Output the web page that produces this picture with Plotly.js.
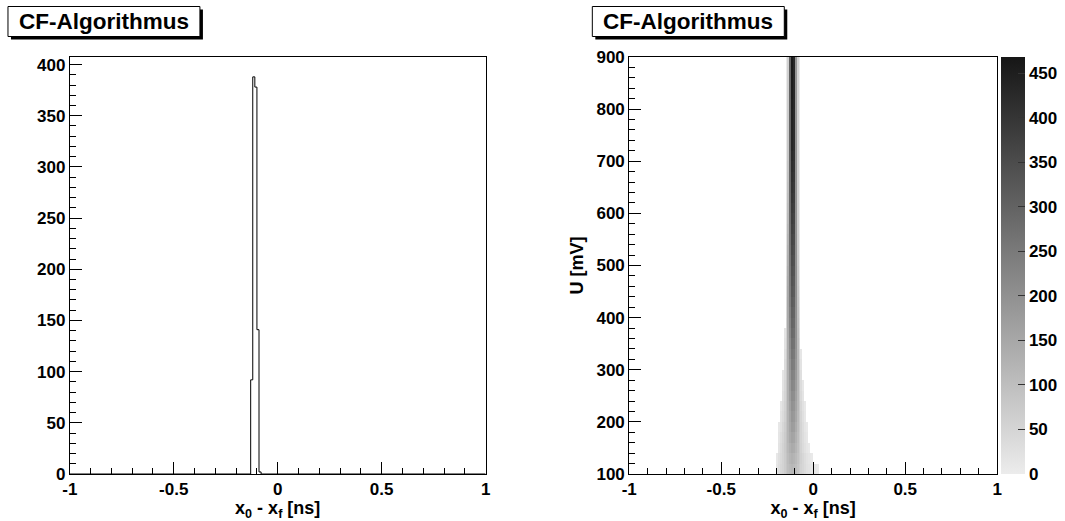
<!DOCTYPE html>
<html>
<head>
<meta charset="utf-8">
<script src="https://cdn.plot.ly/plotly-3.0.1.min.js"></script>
<style>
  html, body { margin: 0; padding: 0; background: #ffffff; }
  #chart { width: 1065px; height: 521px; }
</style>
</head>
<body>
<div id="chart"></div>
<script>
// ---- 1D spectrum: time difference x0 - xf (bins of 0.01 ns) ----
const histCenters = [-0.125, -0.115, -0.105, -0.095, -0.085];
const histCounts  = [92, 388, 378, 141, 2];
const histBinWidth = 0.01;

// time axis ticks (plain hyphen for negative values)
const tTickVals = [-1, -0.5, 0, 0.5, 1];
const tTickText = ['-1', '-0.5', '0', '0.5', '1'];

// ---- 2D spectrum: amplitude U [mV] versus x0 - xf [ns] ----
const tCenters = [-0.215, -0.205, -0.195, -0.185, -0.175, -0.165, -0.155, -0.145, -0.135,
                  -0.125, -0.115, -0.105, -0.095, -0.085, -0.075, -0.065, -0.055, -0.045,
                  -0.035, -0.025, -0.015, -0.005, 0.005, 0.015, 0.025, 0.035];
const uCenters = [110, 130, 150, 170, 190, 210, 230, 250, 270, 290,
                  310, 330, 350, 370, 390, 410, 430, 450, 470, 490,
                  510, 530, 550, 570, 590, 610, 630, 650, 670, 690,
                  710, 730, 750, 770, 790, 810, 830, 850, 870, 890];
// index of the first filled time bin in each amplitude row
const rowStart = [2, 2, 3, 3, 3, 4, 4, 5, 5, 5,
                  6, 6, 6, 6, 7, 7, 7, 7, 7, 7,
                  7, 7, 7, 7, 7, 7, 7, 7, 7, 7,
                  7, 7, 7, 7, 7, 7, 7, 7, 7, 7];
// counts per row, starting at rowStart
const rowCounts = [
  [15, 30, 45, 55, 70, 85, 100, 110, 115, 110, 100, 85, 70, 55, 45, 35, 25, 20, 15, 12, 10, 8, 5],
  [12, 28, 42, 55, 70, 88, 105, 120, 128, 122, 110, 92, 75, 58, 45, 32, 22, 15, 10, 6],
  [20, 38, 55, 72, 92, 112, 132, 145, 140, 120, 98, 75, 55, 38, 25, 14, 6],
  [15, 32, 50, 70, 92, 118, 145, 160, 155, 130, 102, 75, 52, 35, 20, 10],
  [10, 25, 45, 65, 90, 120, 150, 175, 170, 140, 108, 78, 52, 32, 16, 6],
  [20, 38, 60, 88, 122, 158, 188, 182, 150, 112, 78, 50, 28, 12],
  [14, 32, 55, 85, 125, 165, 198, 192, 158, 115, 78, 46, 24, 8],
  [26, 50, 82, 128, 172, 210, 205, 165, 118, 75, 40, 18],
  [20, 45, 80, 130, 180, 222, 216, 172, 120, 72, 36, 12],
  [15, 40, 76, 132, 188, 235, 228, 180, 120, 65, 28],
  [34, 72, 135, 195, 248, 240, 186, 118, 58, 20],
  [28, 68, 138, 205, 260, 252, 192, 115, 52, 14],
  [22, 62, 140, 212, 272, 264, 196, 110, 45],
  [18, 58, 142, 220, 284, 276, 200, 105, 38],
  [52, 145, 228, 295, 286, 200, 100, 32],
  [46, 146, 235, 305, 296, 202, 96, 28],
  [42, 148, 242, 315, 305, 204, 92, 24],
  [38, 146, 248, 325, 314, 205, 88, 20],
  [34, 142, 252, 334, 322, 205, 84, 16],
  [30, 138, 256, 342, 330, 205, 80, 14],
  [26, 132, 260, 350, 338, 204, 76, 12],
  [24, 126, 264, 358, 346, 203, 72, 10],
  [22, 120, 268, 366, 354, 202, 70, 10],
  [20, 114, 272, 374, 362, 200, 68, 8],
  [18, 108, 276, 382, 370, 200, 66, 8],
  [16, 102, 278, 390, 378, 198, 64, 8],
  [14, 98, 280, 398, 385, 198, 62, 7],
  [12, 94, 282, 405, 392, 196, 62, 7],
  [10, 90, 284, 412, 398, 196, 60, 6],
  [10, 86, 286, 418, 404, 195, 60, 6],
  [8, 82, 288, 424, 410, 194, 58, 6],
  [8, 78, 290, 430, 414, 194, 58, 5],
  [6, 76, 292, 436, 418, 193, 57, 5],
  [6, 72, 294, 440, 422, 192, 56, 5],
  [5, 70, 295, 444, 425, 192, 56, 5],
  [5, 68, 296, 448, 428, 191, 55, 5],
  [4, 66, 298, 452, 430, 190, 55, 6],
  [4, 64, 298, 455, 431, 190, 55, 6],
  [4, 62, 300, 458, 430, 190, 55, 6],
  [4, 60, 300, 460, 430, 190, 55, 6]
];
const zMax = 468;

const panelTitle = 'CF-Algorithmus';
const xTitle = 'x<sub>0</sub> - x<sub>f</sub> [ns]';
const yTitleRight = 'U [mV]';

// ---- build traces ----
// step outline of the 1D histogram
const stepX = [-1], stepY = [0];
histCenters.forEach((c, i) => {
  const lo = c - histBinWidth / 2, hi = c + histBinWidth / 2;
  stepX.push(lo, lo, hi, hi);
  const prev = i === 0 ? 0 : histCounts[i - 1];
  stepY.push(prev, histCounts[i], histCounts[i], histCounts[i]);
});
stepX.push(stepX[stepX.length - 1], 1);
stepY.push(0, 0);

// 2D matrix, empty cells left blank
const zGrid = uCenters.map((u, r) => {
  const row = tCenters.map(() => null);
  rowCounts[r].forEach((v, k) => { row[rowStart[r] + k] = v; });
  return row;
});

const W = 1065, H = 521;
const fx = (x) => x / W;
const fy = (y) => 1 - y / H;
const FONT = 'Liberation Sans, Arial, Helvetica, sans-serif';
const tickFont = { family: FONT, size: 17, color: '#000', weight: 'bold' };
const titleFont = { family: FONT, size: 18, color: '#000', weight: 'bold' };

const histTrace = {
  type: 'scatter', mode: 'lines', x: stepX, y: stepY,
  line: { color: '#000', width: 1, shape: 'linear' },
  xaxis: 'x', yaxis: 'y', hoverinfo: 'skip', showlegend: false
};

const mapTrace = {
  type: 'heatmap', x: tCenters, y: uCenters, z: zGrid,
  xaxis: 'x2', yaxis: 'y2', zmin: 0, zmax: zMax, zsmooth: false,
  colorscale: [[0, '#ececec'], [1, '#161616']],
  colorbar: {
    x: fx(1004), xanchor: 'left', xpad: 0,
    y: fy(474), yanchor: 'bottom', ypad: 0,
    len: (474 - 57) / H, lenmode: 'fraction',
    thickness: 24, thicknessmode: 'pixels',
    outlinewidth: 0,
    ticks: 'inside', ticklen: 7, tickcolor: '#333', tickwidth: 1,
    tick0: 0, dtick: 50, tickfont: tickFont
  }
};

const commonAxis = {
  showgrid: false, zeroline: false, showline: true, mirror: true,
  linecolor: '#000', linewidth: 1,
  ticks: 'inside', ticklen: 12, tickcolor: '#000', tickwidth: 1,
  tickfont: tickFont, automargin: false, fixedrange: true
};

const timeAxis = {
  range: [-1, 1], tickmode: 'array', tickvals: tTickVals, ticktext: tTickText,
  minor: { tickmode: 'linear', tick0: 0, dtick: 0.1, ticks: 'inside', ticklen: 6, tickcolor: '#000', showgrid: false },
  title: { text: xTitle, font: titleFont, standoff: 1 }
};

const layout = {
  width: W, height: H,
  margin: { l: 0, r: 0, t: 0, b: 0 },
  paper_bgcolor: '#fff', plot_bgcolor: '#fff',
  showlegend: false,
  xaxis: Object.assign({}, commonAxis, timeAxis, { domain: [fx(70), fx(487)] }),
  yaxis: Object.assign({}, commonAxis, {
    domain: [fy(474), fy(57)], range: [0, 407.4], tick0: 0, dtick: 50,
    minor: { dtick: 10, ticks: 'inside', ticklen: 6, tickcolor: '#000', showgrid: false }
  }),
  xaxis2: Object.assign({}, commonAxis, timeAxis, { anchor: 'y2', domain: [fx(631), fx(1000)] }),
  yaxis2: Object.assign({}, commonAxis, {
    anchor: 'x2',
    domain: [fy(474), fy(57)], range: [100, 900], tick0: 100, dtick: 100,
    minor: { dtick: 20, ticks: 'inside', ticklen: 6, tickcolor: '#000', showgrid: false },
    title: { text: yTitleRight, font: titleFont, standoff: 8 }
  }),
  shapes: [
    // title boxes: drop shadow then white pane
    { type: 'rect', xref: 'paper', yref: 'paper', x0: fx(11), x1: fx(203.5), y0: fy(39.5), y1: fy(9.5),
      fillcolor: '#000', line: { width: 0 } },
    { type: 'rect', xref: 'paper', yref: 'paper', x0: fx(8), x1: fx(200.5), y0: fy(36.5), y1: fy(6.5),
      fillcolor: '#fff', line: { color: '#000', width: 1 } },
    { type: 'rect', xref: 'paper', yref: 'paper', x0: fx(597), x1: fx(789.5), y0: fy(39.5), y1: fy(9.5),
      fillcolor: '#000', line: { width: 0 } },
    { type: 'rect', xref: 'paper', yref: 'paper', x0: fx(594), x1: fx(786.5), y0: fy(36.5), y1: fy(6.5),
      fillcolor: '#fff', line: { color: '#000', width: 1 } }
  ],
  annotations: [
    { xref: 'paper', yref: 'paper', x: fx(104.3), y: fy(21.5), xanchor: 'center', yanchor: 'middle',
      text: panelTitle, showarrow: false, font: { family: FONT, size: 22.5, color: '#000', weight: 'bold' } },
    { xref: 'paper', yref: 'paper', x: fx(690.3), y: fy(21.5), xanchor: 'center', yanchor: 'middle',
      text: panelTitle, showarrow: false, font: { family: FONT, size: 22.5, color: '#000', weight: 'bold' } }
  ]
};

Plotly.newPlot('chart', [histTrace, mapTrace], layout, { staticPlot: true, displayModeBar: false });
</script>
</body>
</html>
